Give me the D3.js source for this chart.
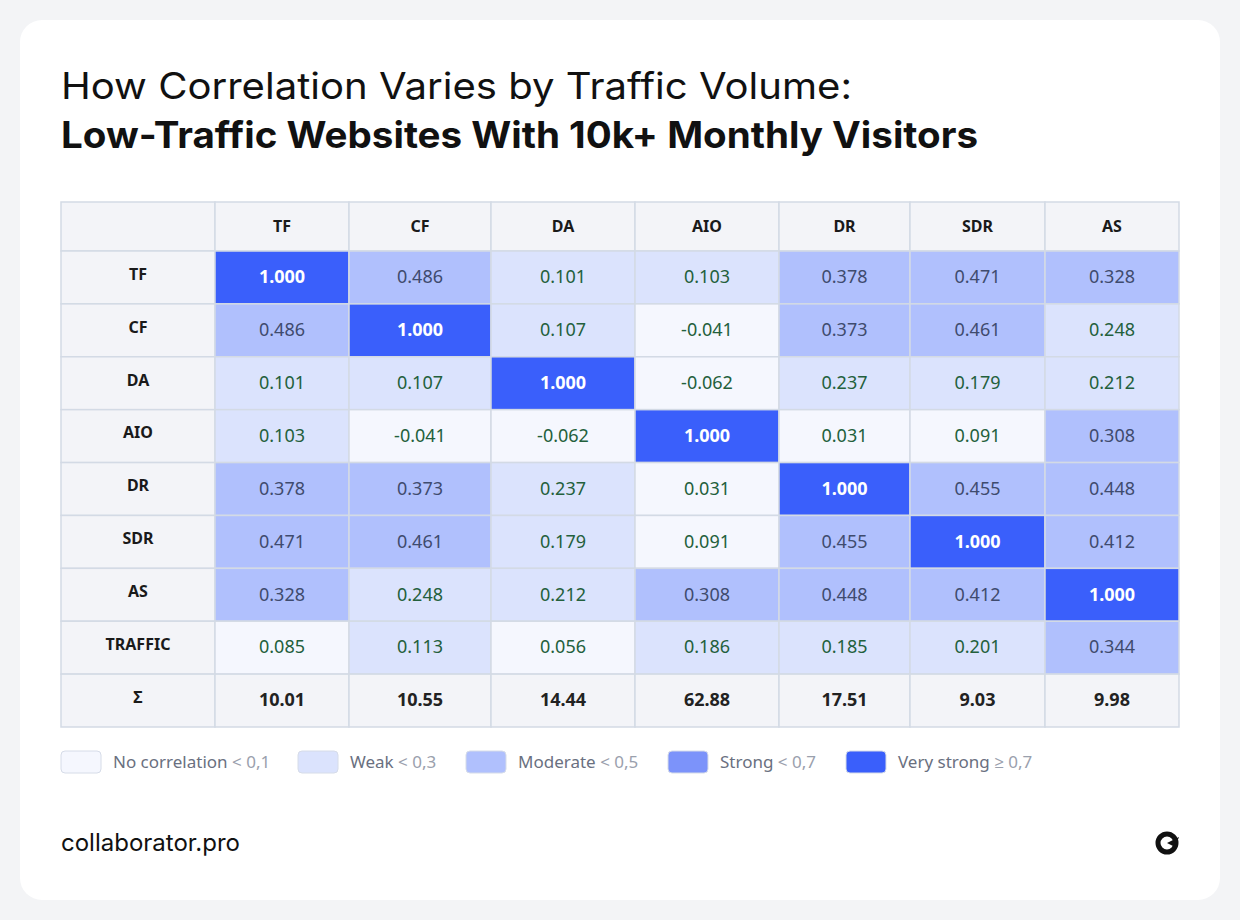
<!DOCTYPE html>
<html lang="en">
<head>
<meta charset="utf-8">
<script src="https://cdn.jsdelivr.net/npm/d3@7"></script>
<style>
  body { margin: 0; background: #f3f4f6; font-family: "Noto Sans", "Open Sans", sans-serif; }
</style>
</head>
<body>
<svg id="chart" width="1240" height="920"></svg>
<script>
// data
const columns = ["TF", "CF", "DA", "AIO", "DR", "SDR", "AS"];
const rows = ["TF", "CF", "DA", "AIO", "DR", "SDR", "AS", "TRAFFIC"];
const values = [
  [1.000, 0.486, 0.101, 0.103, 0.378, 0.471, 0.328],
  [0.486, 1.000, 0.107, -0.041, 0.373, 0.461, 0.248],
  [0.101, 0.107, 1.000, -0.062, 0.237, 0.179, 0.212],
  [0.103, -0.041, -0.062, 1.000, 0.031, 0.091, 0.308],
  [0.378, 0.373, 0.237, 0.031, 1.000, 0.455, 0.448],
  [0.471, 0.461, 0.179, 0.091, 0.455, 1.000, 0.412],
  [0.328, 0.248, 0.212, 0.308, 0.448, 0.412, 1.000],
  [0.085, 0.113, 0.056, 0.186, 0.185, 0.201, 0.344]
];
const sums = [10.01, 10.55, 14.44, 62.88, 17.51, 9.03, 9.98];
const legendLabels = ["No correlation", "Weak", "Moderate", "Strong", "Very strong"];
const legendThresholds = ["< 0,1", "< 0,3", "< 0,5", "< 0,7", "≥ 0,7"];
const thresholds = [0.1, 0.3, 0.5, 0.7];

const colors = ["#f5f7fe", "#dbe3fd", "#b0c0fd", "#7c93fa", "#3a5ffb"];
const textColors = ["#23603c", "#23603c", "#3f4b6e", "#2a356a", "#ffffff"];
const level = d3.scaleThreshold().domain(thresholds).range([0, 1, 2, 3, 4]);

const svg = d3.select("#chart");

// card
svg.append("rect").attr("x", 20).attr("y", 20).attr("width", 1200).attr("height", 880)
  .attr("rx", 22).attr("fill", "#ffffff");

// title
const titleFont = "Inter, 'Noto Sans', sans-serif";
svg.append("text").attr("x", 61).attr("y", 99).attr("font-size", 37).attr("fill", "#111")
  .attr("font-family", titleFont).attr("textLength", 791).attr("lengthAdjust", "spacingAndGlyphs")
  .text("How Correlation Varies by Traffic Volume:");
svg.append("text").attr("x", 61).attr("y", 148).attr("font-size", 37).attr("font-weight", 700)
  .attr("fill", "#111").attr("font-family", titleFont).attr("textLength", 917).attr("lengthAdjust", "spacingAndGlyphs")
  .text("Low-Traffic Websites With 10k+ Monthly Visitors");

// table layout
const colEdges = [61, 215, 349, 491, 635, 779, 910, 1045, 1179];
const headerTop = 202, headerH = 49;
const y = d3.scaleBand().domain([...rows, "Σ"]).range([headerTop + headerH, 727]);
const border = "#d3dae5", headBg = "#f3f4f8";

const g = svg.append("g");

function cell(x0, x1, y0, h, fill, txt, opts) {
  g.append("rect").attr("x", x0).attr("y", y0).attr("width", x1 - x0).attr("height", h)
    .attr("fill", fill).attr("stroke", border).attr("stroke-width", 1.5);
  g.append("text").attr("x", (x0 + x1) / 2).attr("y", y0 + h / 2 + (opts.dy || 1))
    .attr("text-anchor", "middle").attr("dominant-baseline", "middle")
    .attr("font-size", opts.size || 17).attr("font-weight", opts.weight || 400)
    .attr("fill", opts.color || "#222").text(txt);
}

// header row
cell(colEdges[0], colEdges[1], headerTop, headerH, headBg, "", {});
columns.forEach((c, i) => cell(colEdges[i + 1], colEdges[i + 2], headerTop, headerH, headBg, c,
  { size: 16, weight: 700, color: "#1a1a1a" }));

// body
rows.forEach((r, ri) => {
  const y0 = y(r);
  cell(colEdges[0], colEdges[1], y0, y.bandwidth(), headBg, r, { size: 16, weight: 700, color: "#1a1a1a", dy: -2 });
  values[ri].forEach((v, ci) => {
    const l = level(v);
    cell(colEdges[ci + 1], colEdges[ci + 2], y0, y.bandwidth(), colors[l], v.toFixed(3),
      { size: 18, weight: l === 4 ? 700 : 400, color: textColors[l] });
  });
});

// sum row
cell(colEdges[0], colEdges[1], y("Σ"), y.bandwidth(), headBg, "Σ", { size: 16, weight: 700, color: "#1a1a1a", dy: -2 });
sums.forEach((s, i) => cell(colEdges[i + 1], colEdges[i + 2], y("Σ"), y.bandwidth(), headBg, s.toFixed(2),
  { size: 18, weight: 700, color: "#222" }));

// legend
const legendX = [61, 298, 466, 668, 846];
legendLabels.forEach((lab, i) => {
  const lg = svg.append("g").attr("transform", `translate(${legendX[i]},751)`);
  lg.append("rect").attr("width", 40).attr("height", 22).attr("rx", 4)
    .attr("fill", colors[i]).attr("stroke", "#d6dce8");
  const t = lg.append("text").attr("x", 52).attr("y", 17).attr("font-size", 17).attr("fill", "#6a7080");
  t.append("tspan").text(lab + " ");
  t.append("tspan").attr("fill", "#9aa0ad").text(legendThresholds[i]);
});

// footer
svg.append("text").attr("x", 61).attr("y", 851).attr("font-size", 24).attr("fill", "#111")
  .attr("font-family", titleFont).text("collaborator.pro");
const logo = svg.append("g").attr("transform", "translate(1167,843)");
logo.append("circle").attr("r", 9).attr("fill", "none").attr("stroke", "#111").attr("stroke-width", 5);
logo.append("path").attr("d", "M0,0 L12,-6 L8,4 Z").attr("fill", "#111");
</script>
</body>
</html>
